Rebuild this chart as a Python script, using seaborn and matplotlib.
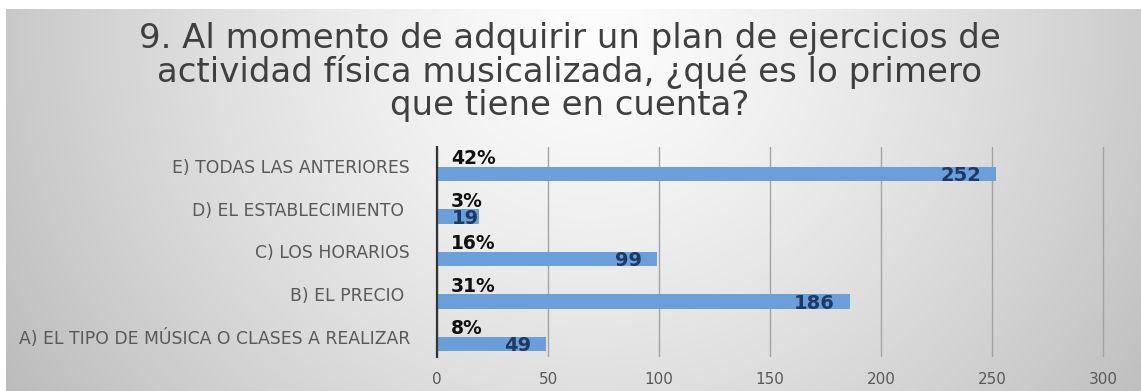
import numpy as np
import pandas as pd
import matplotlib
matplotlib.use("Agg")
import matplotlib.pyplot as plt
import seaborn as sns

categories = [
    "E) TODAS LAS ANTERIORES",
    "D) EL ESTABLECIMIENTO ",
    "C) LOS HORARIOS",
    "B) EL PRECIO ",
    "A) EL TIPO DE MÚSICA O CLASES A REALIZAR",
]
counts = [252, 19, 99, 186, 49]
percents = ["42%", "3%", "16%", "31%", "8%"]
xticks = [0, 50, 100, 150, 200, 250, 300]
title_lines = [
    "9. Al momento de adquirir un plan de ejercicios de",
    "actividad física musicalizada, ¿qué es lo primero",
    "que tiene en cuenta?",
]

sns.set_theme(style="white")
plt.rcParams["font.family"] = ["DejaVu Sans"]

W, H = 1141, 391
fig = plt.figure(figsize=(W / 100, H / 100), dpi=100)

# background gradient
bg = fig.add_axes([0, 0, 1, 1], zorder=-10)
yy, xx = np.mgrid[0:H, 0:W]
cx, cy = 590, 30
r = np.sqrt(((xx - cx) / 620.0) ** 2 + ((yy - cy) / 600.0) ** 2)
val = 0.99 - 0.22 * np.clip(r, 0, 1.3) ** 1.3
img = np.dstack([val, val, val])
img[:9, :, :] = 1.0
img[:, :6, :] = 1.0
bg.imshow(img, aspect="auto", extent=[0, W, H, 0], interpolation="bilinear")
bg.set_axis_off()

df = pd.DataFrame({"cat": categories, "count": counts})

ax_left, ax_top, ax_bot = 437, 147, 357
px_per_unit = (1103 - 437) / 300
xmax = 301.5
ax_right = ax_left + xmax * px_per_unit
ax = fig.add_axes([ax_left / W, 1 - ax_bot / H, (ax_right - ax_left) / W,
                   (ax_bot - ax_top) / H])
ax.set_facecolor("none")
sns.barplot(data=df, x="count", y="cat", orient="h", color="#6a9fda",
            width=0.33, saturation=1, linewidth=0, ax=ax, zorder=3)

ax.set_xlim(0, xmax)
ax.set_ylim(4.306, -0.635)
ax.set_xticks(xticks)
ax.set_xticklabels([str(t) for t in xticks], fontsize=11, color="#595959")
ax.set_yticks([i - 0.18 for i in range(len(categories))])
ax.set_yticklabels(categories, fontsize=12.4, color="#595959")
ax.tick_params(axis="both", length=0)
ax.tick_params(axis="x", pad=11)
ax.tick_params(axis="y", pad=19.5)
ax.set_xlabel("")
ax.set_ylabel("")
ax.grid(axis="x", color="#a3a3a3", linewidth=1, zorder=0)
for s in ["top", "right", "bottom"]:
    ax.spines[s].set_visible(False)
ax.spines["left"].set_color("#333333")
ax.spines["left"].set_linewidth(1.6)
ax.spines["left"].set_zorder(5)

units_per_px = 1 / px_per_unit
for i, (c, p) in enumerate(zip(counts, percents)):
    if c < 30:
        ax.text(15 * units_per_px, i + 0.165, str(c), ha="left", va="baseline",
                fontsize=14, fontweight="bold", color="#1f3864", zorder=6)
    else:
        ax.text(c - 15 * units_per_px, i + 0.165, str(c), ha="right",
                va="baseline", fontsize=14, fontweight="bold",
                color="#1f3864", zorder=6)
    ax.text(14 * units_per_px, i - 0.23, p, ha="left", va="baseline",
            fontsize=13.5, fontweight="bold", color="#111111", zorder=6)

for k, (line, base) in enumerate(zip(title_lines, [48, 82, 115])):
    fig.text(570 / W, 1 - base / H, line, ha="center", va="baseline",
             fontsize=24.5, color="#3f3f3f")

fig.savefig("out.png", dpi=100)
